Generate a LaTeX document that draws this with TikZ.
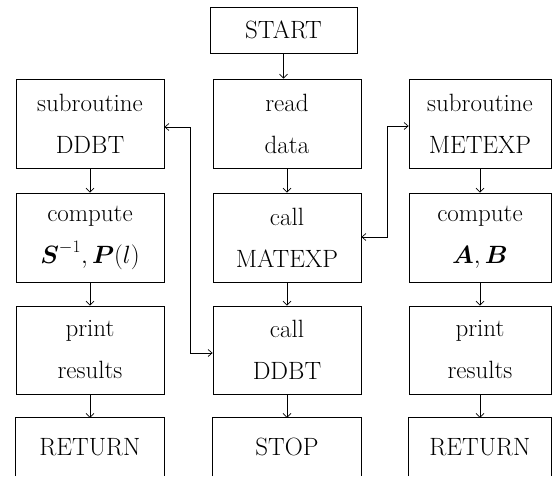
\RequirePackage{fix-cm}
\documentclass[tikz,border=0pt]{standalone}
\usepackage{amsmath}
\usetikzlibrary{arrows.meta}
\begin{document}
\begin{tikzpicture}[x=1pt,y=-1pt,
  box/.style={draw, line width=0.8pt, minimum height=89pt, inner sep=0pt, align=center,
    font=\fontsize{25}{42}\selectfont},
  lbox/.style={box, minimum width=148pt},
  rbox/.style={box, minimum width=142pt},
  obox/.style={inner sep=0pt, align=center, minimum height=58pt, font=\fontsize{25}{42}\selectfont},
  arr/.style={-{Straight Barb[length=4pt,width=8pt]}, line width=0.7pt},
  loop/.style={{Straight Barb[length=4pt,width=7pt]}-{Straight Barb[length=4pt,width=7pt]}, line width=0.7pt}
]
\useasboundingbox (0,0) rectangle (559,483);
% START
\node[box, minimum width=147pt, minimum height=46pt] (start) at (283.5,30) {START};
% left column
\node[lbox] (subD) at (90,123.5) {subroutine\\DDBT};
\node[lbox] (compS) at (90,237.5) {compute\\$\boldsymbol{S}^{-1},\boldsymbol{P}(l)$};
\node[lbox, minimum height=88pt] (printL) at (90,350) {print\\results};
\node[obox, minimum width=148pt] (retL) at (90,447) {RETURN};
% middle column
\node[lbox] (read) at (287,123.5) {read\\data};
\node[lbox] (callM) at (287,237.5) {call\\MATEXP};
\node[lbox, minimum height=88pt] (callD) at (287,350) {call\\DDBT};
\node[obox, minimum width=148pt] (stop) at (287,447) {STOP};
% right column
\node[rbox] (subM) at (480,123.5) {subroutine\\METEXP};
\node[rbox] (compA) at (480,237.5) {compute\\$\boldsymbol{A},\boldsymbol{B}$};
\node[rbox, minimum height=88pt] (printR) at (480,350) {print\\results};
\node[obox, minimum width=142pt] (retR) at (480,447) {RETURN};
% open-bottom boxes
\foreach \n in {retL,stop,retR}{
  \draw[line width=0.8pt] (\n.south west) -- (\n.north west) -- (\n.north east) -- (\n.south east);
}
% vertical arrows
\draw[arr] (start) -- (start |- read.north);
\draw[arr] (read) -- (callM);
\draw[arr] (callM) -- (callD);
\draw[arr] (callD) -- (stop);
\draw[arr] (subD) -- (compS);
\draw[arr] (compS) -- (printL);
\draw[arr] (printL) -- (retL);
\draw[arr] (subM) -- (compA);
\draw[arr] (compA) -- (printR);
\draw[arr] (printR) -- (retR);
% loops
\coordinate (lt) at (190,127);
\coordinate (lb) at (190,353);
\draw[loop] (subD.east |- lt) -- (lt) -- (lb) -- (callD.west |- lb);
\coordinate (rt) at (387,126);
\coordinate (rb) at (387,237);
\draw[loop] (subM.west |- rt) -- (rt) -- (rb) -- (callM.east |- rb);
\end{tikzpicture}
\end{document}
